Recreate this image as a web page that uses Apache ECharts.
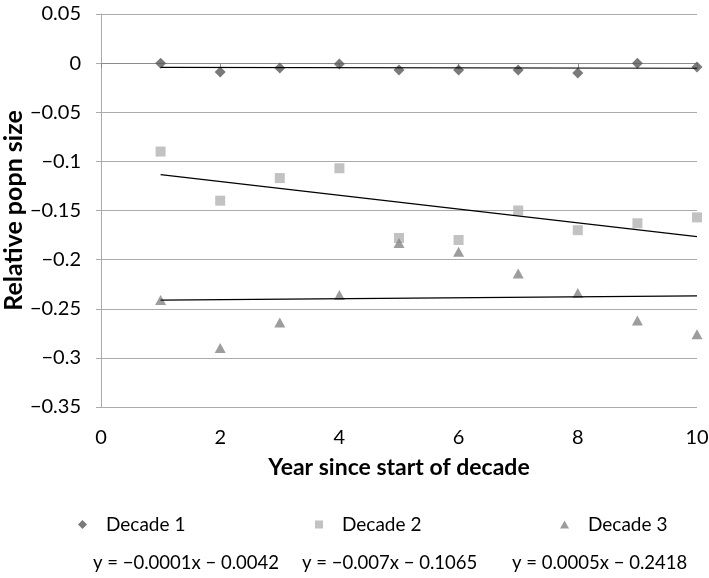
<!DOCTYPE html>
<html>
<head>
<meta charset="utf-8">
<script src="https://cdn.jsdelivr.net/npm/echarts@6/dist/echarts.min.js"></script>
<style>
html,body{margin:0;padding:0;background:#fff;}
#chart{width:709px;height:578px;}
</style>
</head>
<body>
<div id="chart"></div>
<script>
// ---- data ----
const years = [1, 2, 3, 4, 5, 6, 7, 8, 9, 10];
const decade1 = [0.000, -0.009, -0.005, -0.001, -0.007, -0.007, -0.007, -0.010, 0.000, -0.004];
const decade2 = [-0.090, -0.140, -0.117, -0.107, -0.178, -0.180, -0.150, -0.170, -0.163, -0.157];
const decade3 = [-0.241, -0.290, -0.264, -0.236, -0.183, -0.192, -0.214, -0.234, -0.262, -0.276];
const seriesNames = ['Decade 1', 'Decade 2', 'Decade 3'];
const trendSlopes = [-0.0001, -0.007, 0.0005];
const trendIntercepts = [-0.0042, -0.1065, -0.2418];
const trendLabels = ['y = \u22120.0001x \u2212 0.0042', 'y = \u22120.007x \u2212 0.1065', 'y = 0.0005x \u2212 0.2418'];
const yTicks = { min: -0.35, max: 0.05, interval: 0.05 };
const xTicks = { min: 0, max: 10, interval: 2 };

// ---- styles ----
const FONT = 'Lato';
const colors = ['#595959', '#b3b3b3', '#858585'];
const symbols = ['diamond', 'rect', 'triangle'];
const symbolSizes = [[11, 11], [10, 10], [11, 10]];
const gridColor = '#ababab';

const allData = [decade1, decade2, decade3];
const scatterSeries = allData.map((vals, i) => ({
  name: seriesNames[i],
  type: 'scatter',
  symbol: symbols[i],
  symbolSize: symbolSizes[i],
  itemStyle: { color: colors[i] },
  data: years.map((x, j) => [x, vals[j]]),
  z: 3
}));
const x0 = years[0], x1 = years[years.length - 1];
const trendSeries = trendSlopes.map((m, i) => ({
  name: 'trend' + (i + 1),
  type: 'line',
  symbol: 'none',
  silent: true,
  lineStyle: { color: '#000', width: 1.2 },
  data: [[x0, m * x0 + trendIntercepts[i]], [x1, m * x1 + trendIntercepts[i]]],
  z: 4
}));

const fmtY = v => {
  const r = parseFloat(v.toFixed(2));
  return r === 0 ? '0' : String(r).replace('-', '\u2212');
};

const legendLefts = [78, 315, 560];
const legends = seriesNames.map((n, i) => ({
  data: [{ name: n, icon: symbols[i] }],
  left: legendLefts[i],
  top: 515,
  padding: 0,
  itemWidth: i === 1 ? 8 : 9,
  itemHeight: i === 0 ? 9 : 8,
  selectedMode: false,
  textStyle: { fontFamily: FONT, fontSize: 19, color: '#000', padding: [0, 0, 0, 14] }
}));

const eqCenters = [185, 394, 604];
const graphics = trendLabels.map((t, i) => ({
  type: 'text',
  left: eqCenters[i] - 92,
  top: 554,
  style: { text: t, fontFamily: FONT, fontSize: 18.5, fill: '#000' }
}));

const chart = echarts.init(document.getElementById('chart'));
chart.setOption({
  animation: false,
  backgroundColor: '#fff',
  textStyle: { fontFamily: FONT },
  grid: { left: 101, right: 12, top: 14, bottom: 171, containLabel: false, outerBoundsMode: 'none' },
  xAxis: [{
    type: 'value',
    min: xTicks.min, max: xTicks.max, interval: xTicks.interval,
    position: 'bottom',
    axisLine: { show: false, onZero: false },
    axisTick: { show: false },
    splitLine: { show: false },
    axisLabel: { fontFamily: FONT, fontSize: 20, color: '#000', margin: 21 },
    name: 'Year since start of decade',
    nameLocation: 'middle',
    nameGap: 49,
    nameMoveOverlap: false,
    nameTextStyle: { fontFamily: FONT, fontSize: 23, fontWeight: 'bold', color: '#000' }
  }, {
    type: 'value',
    min: xTicks.min, max: xTicks.max, interval: xTicks.interval,
    position: 'top',
    axisLine: { show: true, onZero: true, lineStyle: { color: '#8c8c8c', width: 1 } },
    axisTick: { show: true, inside: true, length: 5, lineStyle: { color: '#8c8c8c' } },
    axisLabel: { show: false },
    splitLine: { show: false }
  }],
  yAxis: {
    type: 'value',
    min: yTicks.min, max: yTicks.max, interval: yTicks.interval,
    axisLine: { show: true, onZero: false, lineStyle: { color: gridColor, width: 1 } },
    axisTick: { show: true, length: 5, lineStyle: { color: gridColor } },
    splitLine: { show: true, lineStyle: { color: gridColor, width: 1 } },
    axisLabel: { fontFamily: FONT, fontSize: 20, color: '#000', margin: 20, formatter: fmtY },
    name: 'Relative popn size',
    nameLocation: 'middle',
    nameGap: 75,
    nameMoveOverlap: false,
    nameTextStyle: { fontFamily: FONT, fontSize: 25, fontWeight: 'bold', color: '#000' }
  },
  legend: legends,
  graphic: graphics,
  series: scatterSeries.concat(trendSeries)
});
</script>
</body>
</html>
